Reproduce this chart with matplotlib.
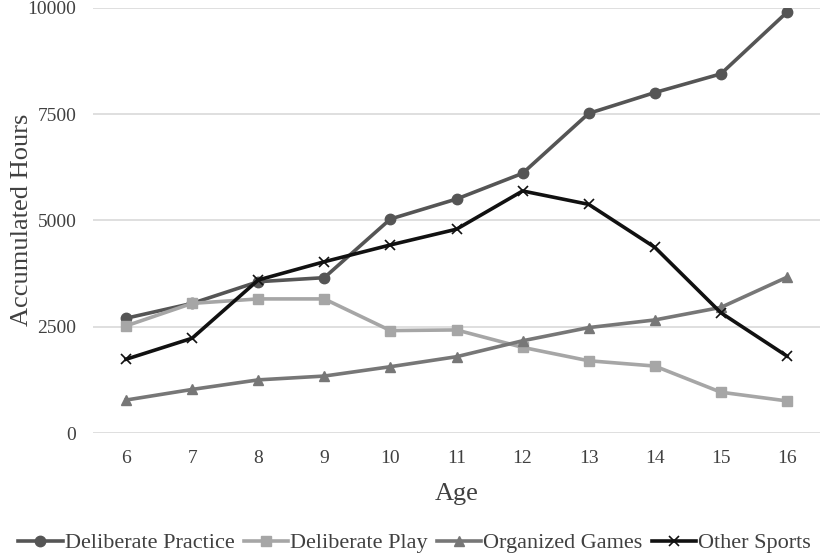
import numpy as np
import matplotlib
matplotlib.use("Agg")
import matplotlib.pyplot as plt

ages = [6, 7, 8, 9, 10, 11, 12, 13, 14, 15, 16]
deliberate_practice = [2700, 3050, 3560, 3655, 5035, 5505, 6110, 7520, 8010, 8450, 9900]
deliberate_play = [2520, 3050, 3155, 3155, 2410, 2425, 2015, 1700, 1575, 960, 755]
organized_games = [775, 1025, 1250, 1340, 1560, 1795, 2170, 2480, 2660, 2955, 3665]
other_sports = [1735, 2230, 3600, 4030, 4425, 4795, 5695, 5380, 4370, 2830, 1810]
y_ticks = [0, 2500, 5000, 7500, 10000]

plt.rcParams['font.family'] = ['Liberation Serif', 'DejaVu Serif']

fig = plt.figure(figsize=(8.21, 5.55), dpi=100)
ax = fig.add_axes([93/821, (555-433)/555, (820-93)/821, 425/555])

ax.plot(ages, deliberate_practice, color="#555555", lw=2.6, marker="o", ms=7.5,
        label="Deliberate Practice")
ax.plot(ages, deliberate_play, color="#a6a6a6", lw=2.6, marker="s", ms=6.5,
        label="Deliberate Play")
ax.plot(ages, organized_games, color="#777777", lw=2.6, marker="^", ms=7.5,
        label="Organized Games")
ax.plot(ages, other_sports, color="#111111", lw=2.6, marker="x", ms=7, mew=1.2,
        label="Other Sports")

ax.set_xlim(5.5, 16.5)
ax.set_ylim(0, 10000)
ax.set_xticks(ages)
ax.set_yticks(y_ticks)
ax.grid(axis="y", color="#d9d9d9", lw=1.2)
ax.set_axisbelow(True)
for s in ax.spines.values():
    s.set_visible(False)
ax.tick_params(length=0, labelsize=14, colors="#404040", pad=12)
ax.tick_params(axis="y", pad=12)

ax.set_xlabel("Age", fontsize=19, color="#404040", labelpad=12)
# y label placed by hand so it is not cut at the left edge
fig.text(22/821, (555-220)/555, "Accumulated Hours", rotation=90, fontsize=19,
         color="#404040", ha="center", va="center")

fig.legend(loc="lower center", bbox_to_anchor=(0.505, -0.033), ncol=4, frameon=False,
           fontsize=16, handlelength=2.0, handletextpad=0.1, columnspacing=0.4,
           labelcolor="#404040")

fig.savefig("out.png", dpi=100)
